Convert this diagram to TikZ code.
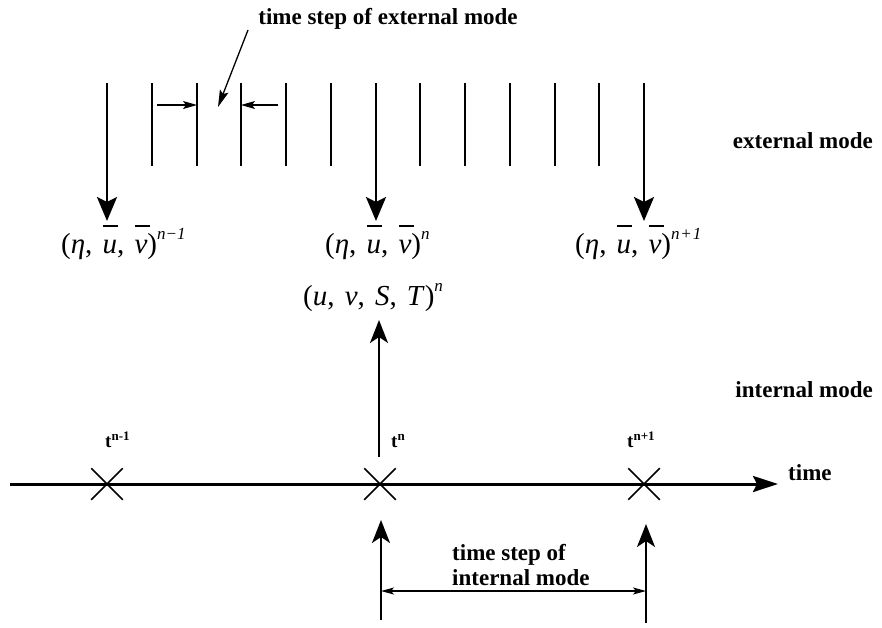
\documentclass[tikz,border=0pt]{standalone}
\usepackage{fontspec}
\setmainfont{Liberation Serif}
\usetikzlibrary{arrows.meta,shapes.misc}
\newcommand{\barred}[1]{\makebox[0pt][l]{\hspace{0.02em}\raisebox{0.9em}{\rule{0.5em}{0.07em}}}\textit{#1}}
\newcommand{\sepc}{,\hspace{0.35em}}
\newcommand{\supx}[1]{\raisebox{0.45em}{\fontsize{17}{17}\selectfont\itshape #1}}
\newcommand{\tsup}[1]{\raisebox{0.32em}{\fontsize{13}{13}\selectfont\bfseries #1}}
\begin{document}
\begin{tikzpicture}[x=1pt,y=-1pt,
  lbl/.style={font=\bfseries\fontsize{23}{25}\selectfont, inner sep=0pt},
  mth/.style={font=\fontsize{29}{32}\selectfont, inner sep=0pt, anchor=base west},
  tl/.style={font=\bfseries\fontsize{19}{20}\selectfont, inner sep=0pt, anchor=base west},
  thinline/.style={line width=1.4pt},
  bigarrow/.style={line width=2.8pt, -{Stealth[length=24pt,width=20pt,inset=5pt]}},
  smallarrow/.style={line width=1.3pt, -{Stealth[length=14pt,width=8pt,inset=3pt]}},
  leader/.style={line width=1.3pt, -{Stealth[length=17pt,width=9pt,inset=3pt]}},
  axisarrow/.style={line width=3pt, -{Stealth[length=25pt,width=16pt,inset=4pt]}},
  uparrow/.style={line width=2pt, -{Stealth[length=23pt,width=18pt,inset=6pt]}},
  dblarrow/.style={line width=1.2pt, {Stealth[length=13pt,width=7pt,inset=3pt]}-{Stealth[length=13pt,width=7pt,inset=3pt]}},
  crossmark/.style={cross out, draw, line width=1.5pt, minimum size=30pt, inner sep=0pt}
]
\useasboundingbox (0,0) rectangle (882,627);

% external mode time lines
\foreach \k in {0,...,12} {
  \pgfmathsetmacro\xx{round(107+44.75*\k)}
  \coordinate (et\k) at (\xx,83);
  \coordinate (eb\k) at (\xx,166);
  \coordinate (ea\k) at (\xx,221);
}
\foreach \k in {1,2,3,4,5,7,8,9,10,11} {
  \draw[thinline] (et\k) -- (eb\k);
}
\foreach \k in {0,6,12} {
  \draw[bigarrow] (et\k) -- (ea\k);
}

% external time step marker
\coordinate (sl) at (157,105);
\coordinate (sr) at (278,105);
\draw[smallarrow] (sl) -- (et2 |- sl);
\draw[smallarrow] (sr) -- (et3 |- sr);

\node[lbl, anchor=base] (ttl) at (388,24) {time step of external mode};
\coordinate (ls) at (248,30);
\coordinate (le) at (218,107);
\draw[leader] (ls) -- (le);

\node[lbl, anchor=base east] (ext) at (873,148) {external mode};
\node[lbl, anchor=base east] (int) at (873,397) {internal mode};

% state labels
\node[mth] (L0) at (61,253) {(\textit{η}\sepc\barred{u}\sepc\barred{v})\supx{n−1}};
\node[mth] (L1) at (325,253) {(\textit{η}\sepc\barred{u}\sepc\barred{v})\supx{n}};
\node[mth] (L2) at (575,253) {(\textit{η}\sepc\barred{u}\sepc\barred{v})\supx{n\kern0.05em+\kern0.05em1}};
\node[mth] (L3) at (303,305) {(\textit{u}\sepc\textit{v}\sepc\textit{S}\sepc\textit{T})\supx{n}};

% time axis
\coordinate (ax0) at (10,484);
\coordinate (ax1) at (778,484);
\draw[axisarrow] (ax0) -- (ax1);
\node[lbl, anchor=base west] (tm) at (788,480) {time};

\node[crossmark] (c0) at (107,484) {};
\node[crossmark] (c1) at (380,484) {};
\node[crossmark] (c2) at (644,484) {};

\node[tl] (t0) at (105,447) {t\tsup{n-1}};
\node[tl] (t1) at (391,447) {t\tsup{n}};
\node[tl] (t2) at (627,447) {t\tsup{n+1}};

% internal -> label arrow
\coordinate (us) at (379,457);
\coordinate (ut) at (379,320);
\draw[uparrow] (us) -- (ut);

% internal time step
\coordinate (lb1) at (381,620);
\coordinate (lt1) at (381,520);
\coordinate (lb2) at (646,623);
\coordinate (lt2) at (646,524);
\draw[uparrow] (lb1) -- (lt1);
\draw[uparrow] (lb2) -- (lt2);
\coordinate (d1) at (381,591);
\coordinate (d2) at (646,591);
\draw[dblarrow] (d1) -- (d2);
\node[lbl, anchor=base west] (its1) at (452,560) {time step of};
\node[lbl, anchor=base west] (its2) at (452,585) {internal mode};
\end{tikzpicture}
\end{document}
